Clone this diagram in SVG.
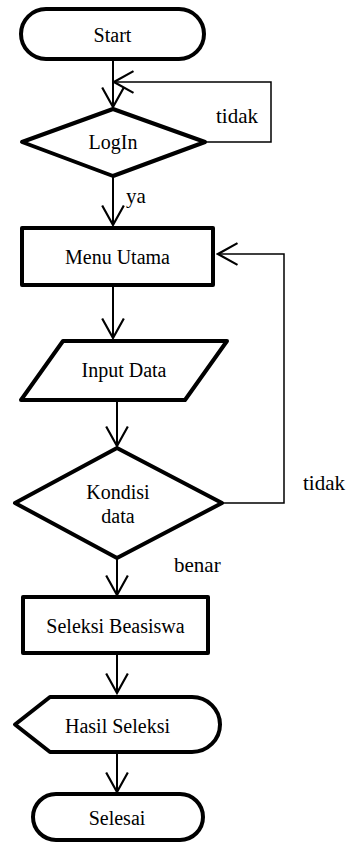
<svg xmlns="http://www.w3.org/2000/svg" width="350" height="845" viewBox="0 0 350 845">
<defs>
<marker id="arr" markerUnits="userSpaceOnUse" markerWidth="24" markerHeight="26" viewBox="-20 -12 22 24" refX="0" refY="0" orient="auto">
<path d="M-18,-10 L0,0 L-18,10" fill="none" stroke="#000" stroke-width="2"/>
</marker>
</defs>
<g id="connectors" fill="none" stroke="#000" stroke-width="2">
<path d="M113,59 V107" marker-end="url(#arr)"/>
<path d="M205,142 H271 V82 H114" stroke-width="1.5" marker-end="url(#arr)"/>
<path d="M113,176 V225" marker-end="url(#arr)"/>
<path d="M113,285 V338" marker-end="url(#arr)"/>
<path d="M117,400 V446" marker-end="url(#arr)"/>
<path d="M222,503 H284 V254 H218" stroke-width="1.5" marker-end="url(#arr)"/>
<path d="M117,558 V595" marker-end="url(#arr)"/>
<path d="M117,653 V693" marker-end="url(#arr)"/>
<path d="M117,752 V792" marker-end="url(#arr)"/>
</g>
<g id="labels" font-family="Liberation Serif" font-size="21" fill="#000">
<text x="216" y="123">tidak</text>
<text x="126" y="203">ya</text>
<text x="303" y="490">tidak</text>
<text x="174" y="572">benar</text>
</g>
<g fill="#fff" stroke="#000" stroke-width="4" stroke-linejoin="round">
<g id="start">
<rect x="21" y="9" width="183" height="50" rx="25" ry="25"/>
<text x="112.5" y="42" font-family="Liberation Serif" font-size="20" text-anchor="middle" fill="#000" stroke="none">Start</text>
</g>
<g id="login">
<polygon points="113,109 205,142 113,176 22,142"/>
<text x="113" y="149" font-family="Liberation Serif" font-size="20" text-anchor="middle" fill="#000" stroke="none">LogIn</text>
</g>
<g id="menu-utama">
<rect x="22" y="228" width="191" height="57"/>
<text x="117.5" y="264" font-family="Liberation Serif" font-size="20" text-anchor="middle" fill="#000" stroke="none">Menu Utama</text>
</g>
<g id="input-data">
<polygon points="63,341 227,341 185,400 21,400"/>
<text x="124" y="377" font-family="Liberation Serif" font-size="20" text-anchor="middle" fill="#000" stroke="none">Input Data</text>
</g>
<g id="kondisi-data">
<polygon points="117,448 222,503 117,558 15,503"/>
<text x="118" y="499" font-family="Liberation Serif" font-size="20" text-anchor="middle" fill="#000" stroke="none">Kondisi</text>
<text x="118" y="523" font-family="Liberation Serif" font-size="20" text-anchor="middle" fill="#000" stroke="none">data</text>
</g>
<g id="seleksi-beasiswa">
<rect x="23" y="597" width="185" height="56"/>
<text x="115.5" y="633" font-family="Liberation Serif" font-size="20" text-anchor="middle" fill="#000" stroke="none">Seleksi Beasiswa</text>
</g>
<g id="hasil-seleksi">
<path d="M50,697 H192 A28,27.5 0 0 1 192,752 H50 L15,724.5 Z"/>
<text x="117.5" y="733" font-family="Liberation Serif" font-size="20" text-anchor="middle" fill="#000" stroke="none">Hasil Seleksi</text>
</g>
<g id="selesai">
<rect x="33" y="794" width="170" height="46" rx="23" ry="23"/>
<text x="117" y="825" font-family="Liberation Serif" font-size="20" text-anchor="middle" fill="#000" stroke="none">Selesai</text>
</g>
</g>
</svg>
